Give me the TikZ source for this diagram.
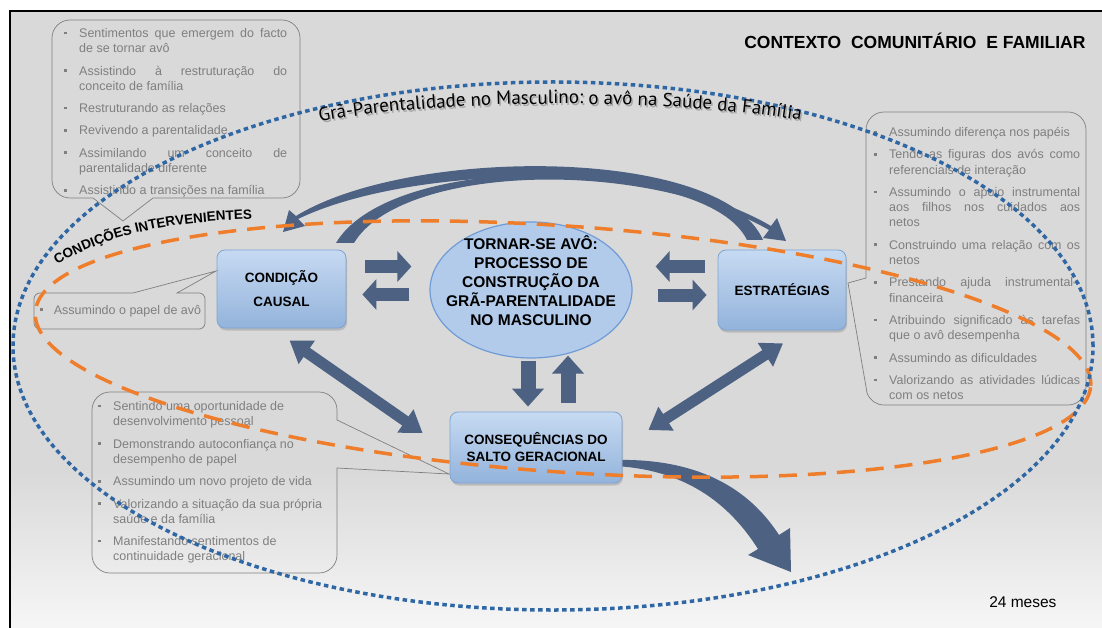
\documentclass[tikz,border=0pt]{standalone}
\usepackage{fontspec}
\setmainfont{Liberation Sans}
\newfontfamily\curvefont{PT Sans}
\usetikzlibrary{arrows.meta,calc,shapes.geometric,decorations.text,shadows}

\definecolor{bggray}{HTML}{D9D9D9}
\definecolor{bgpale}{HTML}{F6F6F6}
\definecolor{slate}{HTML}{4D6183}
\definecolor{boxtop}{HTML}{C6DAF2}
\definecolor{boxbot}{HTML}{93B3DB}
\definecolor{boxline}{HTML}{7EA4D3}
\definecolor{ovalfill}{HTML}{B3CBEA}
\definecolor{ovalline}{HTML}{6F9BD6}
\definecolor{dotblue}{HTML}{2F67A5}
\definecolor{dashorange}{HTML}{EF7E2C}
\definecolor{notegray}{HTML}{7F7F7F}

\newcommand{\bulletbox}{\rule[3.2pt]{2.6pt}{2.6pt}}
\newcommand{\itm}[1]{\par\hangindent=15pt\hangafter=1\noindent
  \makebox[15pt][l]{\bulletbox}#1\par}
\newcommand{\notesetup}{\parskip=7pt\relax\hyphenpenalty=10000\relax}

\begin{document}
\begin{tikzpicture}[x=1pt, y=-1pt,
    stagebox/.style={rectangle, rounded corners=8pt, draw=boxline, line width=0.8pt,
      top color=boxtop, bottom color=boxbot,
      drop shadow={opacity=0.35, shadow xshift=1pt, shadow yshift=-2.5pt},
      font=\bfseries\fontsize{13.5}{17}\selectfont, align=center},
    oval/.style={ellipse, draw=ovalline, line width=1.2pt, fill=ovalfill, inner sep=0pt},
    blockarrow/.style={draw=slate, line width=13pt, -{Triangle[width=30pt,length=14pt]}},
    vblockarrow/.style={draw=slate, line width=15pt, -{Triangle[width=31pt,length=18pt]}},
    dblarrow/.style={draw=slate, line width=11pt,
      {Triangle[width=27pt,length=21pt]}-{Triangle[width=27pt,length=21pt]}},
    noteline/.style={draw=notegray, line width=0.7pt},
    notetext/.style={anchor=north west, inner sep=0pt, text=notegray,
      font=\fontsize{12.5}{15.3}\selectfont},
    dotline/.style={draw=dotblue, line width=3.5pt, dash pattern=on 4.5pt off 3.5pt},
    dashline/.style={draw=dashorange, line width=3.5pt, dash pattern=on 18pt off 11pt}]

  \useasboundingbox (0,0) rectangle (1102,628);

  % Fundo e moldura
  \fill[white] (0,0) rectangle (1102,628);
  \fill[bggray] (10,11) rectangle (1102,470);
  \shade[top color=bggray, bottom color=bgpale] (10,470) rectangle (1102,628);
  \draw[line width=2.5pt] (10,629) -- (10,11) -- (1103,11);

  % Setas curvas
  \fill[slate] (336,243) .. controls (385,160) and (640,150) .. (771,226)
    -- (777,218) -- (786,241) -- (763,238) -- (769,230)
    .. controls (640,156) and (400,166) .. (354,243) -- cycle;
  \fill[slate] (763,240) .. controls (722,146) and (410,146) .. (296,216)
    -- (289,210) -- (283,232) -- (305,226) -- (298,219)
    .. controls (420,160) and (708,160) .. (747,240) -- cycle;
  \fill[slate] (615,460) .. controls (700,458) and (750,490) .. (779,535)
    -- (790,528) -- (791,572) -- (748,555) -- (758,549)
    .. controls (732,508) and (690,470) .. (615,466) -- cycle;

  % Caixas
  \node[stagebox, minimum width=129pt, minimum height=78pt] (causal) at (281.5,289) {CONDIÇÃO\\[7pt]CAUSAL};
  \node[stagebox, minimum width=128pt, minimum height=80pt] (estrat) at (782,290) {ESTRATÉGIAS};
  \node[stagebox, minimum width=172pt, minimum height=71pt] (conseq) at (536,447.5) {CONSEQUÊNCIAS DO\\SALTO GERACIONAL};
  \node[oval, minimum width=202pt, minimum height=136pt] (centre) at (531,290) {};
  \node[font=\bfseries\fontsize{15.5}{19}\selectfont, align=center] (centretext) at (531,280.5)
    {TORNAR-SE AVÔ:\\PROCESSO DE\\CONSTRUÇÃO DA\\GRÃ-PARENTALIDADE\\NO MASCULINO};

  % Setas
  \draw[blockarrow] ($(causal.east)+(19,-22.5)$) -- ($(centre.west)+(-18,-23.5)$);
  \draw[blockarrow] ($(centre.west)+(-20,4.5)$) -- ($(causal.east)+(16,5.5)$);
  \draw[blockarrow] ($(estrat.west)+(-13,-23.5)$) -- ($(centre.east)+(23,-23.5)$);
  \draw[blockarrow] ($(centre.east)+(25,5)$) -- ($(estrat.west)+(-11,5)$);
  \draw[vblockarrow] ($(centre.south)+(-3,2)$) -- ($(conseq.north)+(-8,-5)$);
  \draw[vblockarrow] ($(conseq.north)+(32,-9)$) -- ($(centre.south)+(37,-3)$);
  \draw[dblarrow] ($(causal.south)+(8,12)$) -- ($(conseq.west)+(-27,-14.5)$);
  \draw[dblarrow] ($(estrat.south)+(1,13)$) -- ($(conseq.east)+(26,-17.5)$);

  % Notas
  \draw[noteline] (70,20) -- (282,20) arc[start angle=90, end angle=0, radius=18pt]
    -- (300,180) arc[start angle=0, end angle=-90, radius=18pt]
    -- (153,198) -- (123,221) -- (93,198)
    -- (70,198) arc[start angle=270, end angle=180, radius=18pt]
    -- (52,38) arc[start angle=180, end angle=90, radius=18pt] -- cycle;
  \draw[noteline] (884,112) -- (1068,112) arc[start angle=90, end angle=0, radius=18pt]
    -- (1086,387) arc[start angle=0, end angle=-90, radius=18pt]
    -- (884,405) arc[start angle=270, end angle=200, radius=18pt]
    -- (848,283) -- (866,278)
    -- (866,130) arc[start angle=180, end angle=90, radius=18pt] -- cycle;
  \draw[noteline] (110,392) -- (319,392) arc[start angle=90, end angle=0, radius=18pt]
    -- (337,420) -- (449,474) -- (337,468)
    -- (337,555) arc[start angle=0, end angle=-90, radius=18pt]
    -- (110,573) arc[start angle=270, end angle=180, radius=18pt]
    -- (92,410) arc[start angle=180, end angle=90, radius=18pt] -- cycle;
  \draw[noteline] (40,293) -- (133,293) -- (216,271) -- (177,293)
    -- (199,293) arc[start angle=90, end angle=0, radius=6pt]
    -- (205,323) arc[start angle=0, end angle=-90, radius=6pt]
    -- (40,329) arc[start angle=270, end angle=180, radius=6pt]
    -- (34,299) arc[start angle=180, end angle=90, radius=6pt] -- cycle;

  \node[notetext, text width=223pt, align=justify] (noteA) at (64,15) {\notesetup
    \itm{Sentimentos que emergem do facto\linebreak de se tornar avô}%
    \itm{Assistindo à restruturação do\linebreak conceito de família}%
    \itm{Restruturando as relações}%
    \itm{Revivendo a parentalidade}%
    \itm{Assimilando um conceito de\linebreak parentalidade diferente}%
    \itm{Assistindo a transições na família}};
  \node[notetext, text width=206pt, align=justify] (noteB) at (874,114) {\notesetup
    \itm{Assumindo diferença nos papéis}%
    \itm{Tendo as figuras dos avós como\linebreak referenciais de interação}%
    \itm{Assumindo o apoio instrumental\linebreak aos filhos nos cuidados aos\linebreak netos}%
    \itm{Construindo uma relação com os\linebreak netos}%
    \itm{Prestando ajuda instrumental–\linebreak financeira}%
    \itm{Atribuindo significado às tarefas\linebreak que o avô desempenha}%
    \itm{Assumindo as dificuldades}%
    \itm{Valorizando as atividades lúdicas\linebreak com os netos}};
  \node[notetext, text width=235pt, align=justify] (noteC) at (98,388) {\notesetup
    \rightskip=0pt plus 1fil\relax
    \itm{Sentindo uma oportunidade de\break desenvolvimento pessoal}%
    \itm{Demonstrando autoconfiança no\break desempenho de papel}%
    \itm{Assumindo um novo projeto de vida}%
    \itm{Valorizando a situação da sua própria\break saúde e da família}%
    \itm{Manifestando sentimentos de\break continuidade geracional}};
  \node[notetext, anchor=west] (noteD) at (40,311)
    {\bulletbox\hspace{11pt}Assumindo o papel de avô};

  % Elipses
  \draw[dashline, rotate around={-4:(563,349)}] (563,349) ellipse [x radius=529pt, y radius=123pt];
  \draw[dotline] (553,346) ellipse [x radius=540pt, y radius=264pt];

  % Etiquetas
  \path[decorate, decoration={text along path, text align=center,
      text={|\curvefont\fontsize{19}{19}\selectfont\color{black!35}|Grã-Parentalidade no Masculino: o avô na Saúde da Família}}]
    (317.5,124) .. controls (451.5,100) and (671.5,100) .. (805.5,123);
  \path[decorate, decoration={text along path, text align=center,
      text={|\curvefont\fontsize{19}{19}\selectfont|Grã-Parentalidade no Masculino: o avô na Saúde da Família}}]
    (316,122) .. controls (450,98) and (670,98) .. (804,121);
  \path[decorate, decoration={text along path, text align=center,
      text={|\bfseries\fontsize{13.5}{13.5}\selectfont|CONDIÇÕES INTERVENIENTES}}]
    (52,268) .. controls (110,231) and (180,221) .. (258,219);
  \node[font=\bfseries\fontsize{17.5}{20}\selectfont, anchor=east] (contexto) at (1089,41)
    {CONTEXTO\hspace{5pt} COMUNITÁRIO\hspace{5pt} E FAMILIAR};
  \node[font=\fontsize{15.5}{18}\selectfont, anchor=east] (meses) at (1060,602) {24 meses};

\end{tikzpicture}
\end{document}
